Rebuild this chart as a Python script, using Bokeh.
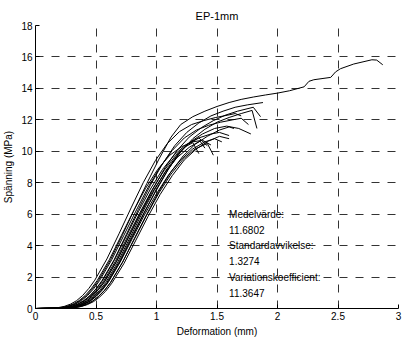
from bokeh.plotting import figure
from bokeh.models import FixedTicker, Label, Range1d
from bokeh.embed import file_html
from bokeh.resources import INLINE

title_text = "EP-1mm"
x_label = "Deformation (mm)"
y_label = "Spänning (MPa)"
x_ticks = [0, 0.5, 1, 1.5, 2, 2.5, 3]
x_tick_labels = ["0", "0.5", "1", "1.5", "2", "2.5", "3"]
y_ticks = [0, 2, 4, 6, 8, 10, 12, 14, 16, 18]
y_tick_labels = ["0", "2", "4", "6", "8", "10", "12", "14", "16", "18"]

stats_labels = ["Medelvärde:", "11.6802", "Standardavvikelse:", "1.3274", "Variationskoefficient:", "11.3647"]
stats_y = [6, 5, 4, 3, 2, 1]
stats_x = 1.6

c1_x = [0, 0.17, 0.22, 0.27, 0.32, 0.37, 0.42, 0.47, 0.52, 0.62, 0.72, 0.82, 0.92, 1.02, 1.12, 1.2, 1.3, 1.4, 1.5, 1.6, 1.7, 1.8, 1.9, 2.0, 2.1, 2.22, 2.26, 2.3, 2.44, 2.48, 2.52, 2.63, 2.78, 2.82, 2.87]
c1_y = [0, 0.02, 0.06, 0.14, 0.28, 0.5, 0.82, 1.25, 1.78, 3.1, 4.7, 6.35, 7.95, 9.5, 10.9, 11.7, 12.2, 12.55, 12.85, 13.1, 13.3, 13.45, 13.58, 13.7, 13.85, 14.1, 14.45, 14.55, 14.7, 15.05, 15.25, 15.55, 15.82, 15.8, 15.5]
c2_x = [0, 0.2, 0.25, 0.3, 0.35, 0.4, 0.45, 0.5, 0.55, 0.65, 0.75, 0.85, 0.95, 1.05, 1.15, 1.25, 1.35, 1.45, 1.55, 1.65, 1.75, 1.88]
c2_y = [0, 0.02, 0.06, 0.14, 0.28, 0.5, 0.82, 1.25, 1.78, 3.1, 4.7, 6.3, 7.85, 9.2, 10.35, 11.2, 11.8, 12.25, 12.55, 12.8, 12.95, 13.1]
c3_x = [0, 0.22, 0.27, 0.32, 0.37, 0.42, 0.47, 0.52, 0.57, 0.67, 0.77, 0.87, 0.97, 1.07, 1.17, 1.27, 1.37, 1.47, 1.57, 1.67, 1.8, 1.86]
c3_y = [0, 0.02, 0.06, 0.13, 0.26, 0.47, 0.78, 1.2, 1.7, 3.0, 4.55, 6.1, 7.6, 8.95, 10.05, 10.9, 11.5, 11.95, 12.3, 12.55, 12.8, 12.2]
c4_x = [0, 0.25, 0.3, 0.35, 0.4, 0.45, 0.5, 0.55, 0.6, 0.7, 0.8, 0.9, 1.0, 1.1, 1.2, 1.3, 1.4, 1.5, 1.6, 1.7, 1.79, 1.83]
c4_y = [0, 0.02, 0.06, 0.13, 0.26, 0.47, 0.78, 1.2, 1.7, 3.0, 4.55, 6.1, 7.6, 8.9, 9.95, 10.8, 11.4, 11.85, 12.15, 12.4, 12.6, 11.45]
c5_x = [0, 0.18, 0.23, 0.28, 0.33, 0.38, 0.43, 0.48, 0.53, 0.63, 0.73, 0.83, 0.93, 1.03, 1.13, 1.23, 1.33, 1.43, 1.53, 1.63, 1.7, 1.76]
c5_y = [0, 0.02, 0.06, 0.14, 0.28, 0.5, 0.82, 1.25, 1.78, 3.1, 4.65, 6.2, 7.7, 9.0, 10.05, 10.85, 11.35, 11.65, 11.85, 12.0, 12.1, 11.7]
c6_x = [0, 0.23, 0.28, 0.33, 0.38, 0.43, 0.48, 0.53, 0.58, 0.68, 0.78, 0.88, 0.98, 1.08, 1.18, 1.28, 1.38, 1.48, 1.58, 1.68, 1.78]
c6_y = [0, 0.02, 0.06, 0.13, 0.26, 0.46, 0.76, 1.15, 1.65, 2.95, 4.5, 6.05, 7.5, 8.8, 9.85, 10.6, 11.1, 11.45, 11.6, 11.45, 11.1]
c7_x = [0, 0.2, 0.25, 0.3, 0.35, 0.4, 0.45, 0.5, 0.55, 0.65, 0.75, 0.85, 0.95, 1.05, 1.15, 1.25, 1.35, 1.45, 1.52, 1.6]
c7_y = [0, 0.02, 0.06, 0.14, 0.28, 0.5, 0.8, 1.22, 1.72, 3.05, 4.6, 6.15, 7.6, 8.85, 9.8, 10.45, 10.85, 11.1, 11.2, 11.0]
c8_x = [0, 0.27, 0.32, 0.37, 0.42, 0.47, 0.52, 0.57, 0.62, 0.72, 0.82, 0.92, 1.02, 1.12, 1.22, 1.32, 1.42, 1.52, 1.6, 1.64]
c8_y = [0, 0.02, 0.06, 0.13, 0.26, 0.46, 0.76, 1.15, 1.65, 2.95, 4.5, 6.0, 7.45, 8.7, 9.7, 10.45, 10.95, 11.35, 11.55, 11.45]
c9_x = [0, 0.24, 0.29, 0.34, 0.39, 0.44, 0.49, 0.54, 0.59, 0.69, 0.79, 0.89, 0.99, 1.09, 1.17, 1.23, 1.3, 1.35]
c9_y = [0, 0.02, 0.06, 0.13, 0.26, 0.46, 0.76, 1.15, 1.65, 2.95, 4.5, 6.0, 7.4, 8.75, 9.7, 10.25, 10.55, 9.85]
c10_x = [0, 0.27, 0.32, 0.37, 0.42, 0.47, 0.52, 0.57, 0.62, 0.72, 0.82, 0.92, 1.02, 1.12, 1.22, 1.32, 1.42, 1.47]
c10_y = [0, 0.02, 0.06, 0.13, 0.26, 0.46, 0.76, 1.15, 1.65, 2.95, 4.45, 5.95, 7.35, 8.55, 9.5, 10.15, 10.5, 9.75]
c11_x = [0, 0.25, 0.3, 0.35, 0.4, 0.45, 0.5, 0.55, 0.6, 0.7, 0.8, 0.9, 1.0, 1.1, 1.2, 1.3, 1.4, 1.48, 1.54]
c11_y = [0, 0.02, 0.06, 0.13, 0.26, 0.46, 0.76, 1.15, 1.65, 2.95, 4.45, 5.95, 7.3, 8.5, 9.45, 10.15, 10.6, 10.8, 10.6]
c12_x = [0, 0.21, 0.26, 0.31, 0.36, 0.41, 0.46, 0.51, 0.56, 0.66, 0.76, 0.86, 0.96, 1.06, 1.16, 1.26, 1.35, 1.42]
c12_y = [0, 0.02, 0.06, 0.14, 0.28, 0.5, 0.8, 1.2, 1.7, 3.0, 4.55, 6.05, 7.5, 8.75, 9.75, 10.45, 10.85, 10.35]
c13_x = [0, 0.28, 0.33, 0.38, 0.43, 0.48, 0.53, 0.58, 0.63, 0.73, 0.83, 0.93, 1.03, 1.13, 1.23, 1.33, 1.43, 1.52, 1.6]
c13_y = [0, 0.02, 0.06, 0.13, 0.25, 0.44, 0.73, 1.1, 1.6, 2.85, 4.35, 5.85, 7.25, 8.45, 9.45, 10.15, 10.65, 10.95, 10.8]
c14_x = [0, 0.16, 0.21, 0.26, 0.31, 0.36, 0.41, 0.46, 0.51, 0.61, 0.71, 0.81, 0.91, 1.01, 1.11, 1.21, 1.3, 1.38, 1.45]
c14_y = [0, 0.02, 0.06, 0.14, 0.28, 0.5, 0.82, 1.25, 1.78, 3.1, 4.65, 6.2, 7.65, 8.85, 9.75, 10.3, 10.6, 10.7, 10.4]
c15_x = [0, 0.14, 0.19, 0.24, 0.29, 0.34, 0.39, 0.44, 0.49, 0.59, 0.69, 0.79, 0.89, 0.99, 1.09, 1.19, 1.29, 1.39, 1.49, 1.59, 1.65, 1.7]
c15_y = [0, 0.02, 0.06, 0.14, 0.28, 0.5, 0.83, 1.27, 1.8, 3.15, 4.75, 6.4, 8.0, 9.4, 10.5, 11.25, 11.7, 11.95, 12.15, 12.3, 12.4, 12.25]
c16_x = [0, 0.22, 0.27, 0.32, 0.37, 0.42, 0.47, 0.52, 0.57, 0.67, 0.77, 0.87, 0.97, 1.07, 1.17, 1.27, 1.36, 1.4]
c16_y = [0, 0.02, 0.06, 0.13, 0.26, 0.47, 0.78, 1.2, 1.7, 3.0, 4.55, 6.05, 7.45, 8.65, 9.6, 10.25, 10.65, 10.2]

curves_x = [c1_x, c2_x, c3_x, c4_x, c5_x, c6_x, c7_x, c8_x, c9_x, c10_x, c11_x, c12_x, c13_x, c14_x, c15_x, c16_x]
curves_y = [c1_y, c2_y, c3_y, c4_y, c5_y, c6_y, c7_y, c8_y, c9_y, c10_y, c11_y, c12_y, c13_y, c14_y, c15_y, c16_y]

FONT = "Liberation Sans"

p = figure(width=402, height=343, output_backend="svg", toolbar_location=None,
           x_range=Range1d(0, 3), y_range=Range1d(0, 18),
           min_border_left=35, min_border_right=4, min_border_top=25, min_border_bottom=35)
p.outline_line_color = None
p.background_fill_color = "white"
p.border_fill_color = "white"

p.title.text = title_text
p.title.align = "center"
p.title.text_font = FONT
p.title.text_font_size = "11px"
p.title.text_font_style = "normal"
p.title.text_color = "black"
p.title.standoff = 7

for ax in (p.xaxis[0], p.yaxis[0]):
    ax.axis_line_color = "black"
    ax.major_tick_in = 4
    ax.major_tick_out = 0
    ax.minor_tick_line_color = None
    ax.major_tick_line_color = "black"
    ax.major_label_text_font = FONT
    ax.major_label_text_font_size = "10px"
    ax.major_label_text_color = "black"
    ax.axis_label_text_font = FONT
    ax.axis_label_text_font_size = "10px"
    ax.axis_label_text_font_style = "normal"
    ax.axis_label_text_color = "black"

p.xaxis.ticker = FixedTicker(ticks=x_ticks)
p.xaxis.major_label_overrides = {t: l for t, l in zip(x_ticks, x_tick_labels)}
p.yaxis.ticker = FixedTicker(ticks=y_ticks)
p.yaxis.major_label_overrides = {t: l for t, l in zip(y_ticks, y_tick_labels)}
p.xaxis.axis_label = x_label
p.yaxis.axis_label = y_label
p.xaxis.major_label_standoff = 3
p.yaxis.major_label_standoff = 3
p.xaxis.axis_label_standoff = 3
p.yaxis.axis_label_standoff = 4

for g in (p.xgrid[0], p.ygrid[0]):
    g.grid_line_color = "#333333"
    g.grid_line_dash = "8 8"
    g.grid_line_width = 1

for xs, ys in zip(curves_x, curves_y):
    p.line(xs, ys, line_color="black", line_width=1)

for txt, yy in zip(stats_labels, stats_y):
    p.add_layout(Label(x=stats_x, y=yy, text=txt, text_font=FONT, text_font_size="10px",
                       text_baseline="middle", text_align="left", text_color="black"))

open("out.html", "w").write(file_html(p, INLINE))
